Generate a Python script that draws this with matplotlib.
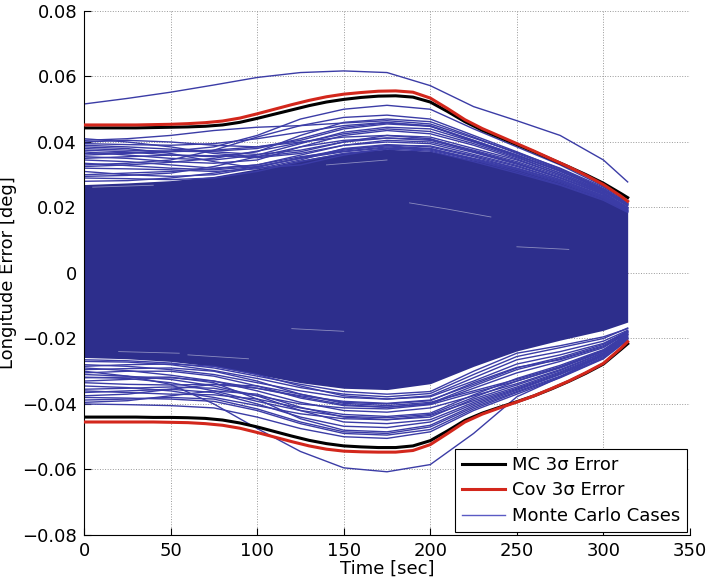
import matplotlib
matplotlib.use("Agg")
import matplotlib.pyplot as plt
import numpy as np

plt.rcParams['font.family'] = 'DejaVu Sans'
plt.rcParams['font.size'] = 13

# time grids [sec]
t_sig = [0, 10, 20, 30, 40, 50, 60, 70, 80, 90, 100, 110, 120, 130, 140, 150, 160, 170, 180, 190,
         200, 210, 220, 230, 240, 250, 260, 270, 280, 290, 300, 310, 314]
t_mc = [0, 25, 50, 75, 100, 125, 150, 175, 200, 225, 250, 275, 300, 314]

# 3-sigma envelopes [deg]
mc_up = [0.0443, 0.0443, 0.0443, 0.0443, 0.0444, 0.0445, 0.0446, 0.0448, 0.0452, 0.0460, 0.0472, 0.0485,
         0.0498, 0.0511, 0.0522, 0.0530, 0.0536, 0.0540, 0.0541, 0.0537, 0.0522, 0.0493, 0.0462, 0.0436,
         0.0414, 0.0392, 0.0370, 0.0347, 0.0324, 0.0300, 0.0274, 0.0243, 0.0230]
cov_up = [0.0452, 0.0452, 0.0452, 0.0452, 0.0453, 0.0454, 0.0456, 0.0459, 0.0464, 0.0473, 0.0486, 0.0500,
          0.0514, 0.0527, 0.0538, 0.0546, 0.0551, 0.0555, 0.0556, 0.0552, 0.0534, 0.0502, 0.0468, 0.0441,
          0.0418, 0.0395, 0.0372, 0.0348, 0.0324, 0.0298, 0.0270, 0.0235, 0.0219]
mc_lo = [-0.0440, -0.0440, -0.0440, -0.0440, -0.0441, -0.0441, -0.0442, -0.0444, -0.0449, -0.0458, -0.0470,
         -0.0484, -0.0498, -0.0511, -0.0521, -0.0528, -0.0531, -0.0533, -0.0533, -0.0528, -0.0512, -0.0482,
         -0.0450, -0.0428, -0.0410, -0.0393, -0.0375, -0.0354, -0.0331, -0.0306, -0.0278, -0.0234, -0.0216]
cov_lo = [-0.0455, -0.0455, -0.0455, -0.0455, -0.0455, -0.0456, -0.0457, -0.0460, -0.0465, -0.0474, -0.0487,
          -0.0501, -0.0515, -0.0528, -0.0538, -0.0544, -0.0546, -0.0547, -0.0547, -0.0542, -0.0524, -0.0490,
          -0.0455, -0.0431, -0.0412, -0.0394, -0.0375, -0.0353, -0.0330, -0.0304, -0.0276, -0.0230, -0.0210]

# dense core of the monte carlo runs
core_up = [0.0270, 0.0275, 0.0282, 0.0295, 0.0318, 0.0345, 0.0368, 0.0378, 0.0372, 0.0345, 0.0318, 0.0280, 0.0230, 0.0188]
core_lo = [-0.0258, -0.0262, -0.0270, -0.0285, -0.0310, -0.0335, -0.0352, -0.0356, -0.0338, -0.0285, -0.0238, -0.0205, -0.0175, -0.0150]

# individual runs outside the core
runs_up = [
    [0.0516, 0.0533, 0.0552, 0.0574, 0.0597, 0.0612, 0.0617, 0.0612, 0.0572, 0.0508, 0.0465, 0.0420, 0.0345, 0.0278],
    [0.0380, 0.0375, 0.0372, 0.0385, 0.0420, 0.0470, 0.0500, 0.0512, 0.0500, 0.0440, 0.0385, 0.0330, 0.0265, 0.0220],
    [0.0330, 0.0335, 0.0345, 0.0375, 0.0415, 0.0450, 0.0475, 0.0482, 0.0470, 0.0420, 0.0370, 0.0318, 0.0258, 0.0212],
    [0.0405, 0.0410, 0.0420, 0.0435, 0.0445, 0.0450, 0.0458, 0.0465, 0.0455, 0.0412, 0.0368, 0.0320, 0.0262, 0.0215],
    [0.0395, 0.0392, 0.0390, 0.0395, 0.0410, 0.0430, 0.0450, 0.0460, 0.0448, 0.0405, 0.0360, 0.0310, 0.0255, 0.0210],
    [0.0370, 0.0360, 0.0350, 0.0345, 0.0360, 0.0395, 0.0430, 0.0445, 0.0440, 0.0400, 0.0355, 0.0305, 0.0250, 0.0205],
    [0.0410, 0.0400, 0.0385, 0.0365, 0.0355, 0.0370, 0.0400, 0.0420, 0.0415, 0.0380, 0.0345, 0.0300, 0.0245, 0.0200],
    [0.0360, 0.0365, 0.0370, 0.0375, 0.0385, 0.0400, 0.0415, 0.0420, 0.0410, 0.0370, 0.0335, 0.0290, 0.0240, 0.0198],
    [0.0345, 0.0340, 0.0330, 0.0320, 0.0330, 0.0360, 0.0390, 0.0400, 0.0395, 0.0362, 0.0328, 0.0285, 0.0235, 0.0195],
    [0.0320, 0.0318, 0.0315, 0.0310, 0.0318, 0.0345, 0.0380, 0.0392, 0.0385, 0.0355, 0.0320, 0.0280, 0.0232, 0.0192],
    [0.0300, 0.0305, 0.0310, 0.0318, 0.0330, 0.0355, 0.0372, 0.0385, 0.0378, 0.0348, 0.0315, 0.0275, 0.0228, 0.0190],
    [0.0385, 0.0380, 0.0365, 0.0340, 0.0320, 0.0330, 0.0360, 0.0380, 0.0380, 0.0345, 0.0310, 0.0270, 0.0225, 0.0188],
    [0.0290, 0.0288, 0.0285, 0.0290, 0.0310, 0.0340, 0.0365, 0.0378, 0.0372, 0.0340, 0.0305, 0.0268, 0.0222, 0.0185],
    [0.0355, 0.0350, 0.0340, 0.0335, 0.0345, 0.0385, 0.0420, 0.0435, 0.0425, 0.0390, 0.0348, 0.0300, 0.0248, 0.0208],
    [0.0400, 0.0405, 0.0400, 0.0390, 0.0385, 0.0405, 0.0440, 0.0455, 0.0448, 0.0402, 0.0358, 0.0312, 0.0252, 0.0212],
    [0.0375, 0.0370, 0.0360, 0.0355, 0.0370, 0.0420, 0.0460, 0.0470, 0.0462, 0.0415, 0.0365, 0.0315, 0.0256, 0.0210],
    [0.0280, 0.0282, 0.0290, 0.0305, 0.0325, 0.0350, 0.0370, 0.0382, 0.0375, 0.0345, 0.0318, 0.0280, 0.0230, 0.0188],
    [0.0310, 0.0300, 0.0295, 0.0300, 0.0322, 0.0352, 0.0378, 0.0388, 0.0380, 0.0350, 0.0320, 0.0282, 0.0232, 0.0190],
    [0.0335, 0.0328, 0.0320, 0.0315, 0.0325, 0.0350, 0.0375, 0.0390, 0.0388, 0.0358, 0.0325, 0.0285, 0.0236, 0.0193],
    [0.0350, 0.0355, 0.0360, 0.0358, 0.0352, 0.0365, 0.0390, 0.0405, 0.0400, 0.0368, 0.0332, 0.0290, 0.0240, 0.0196],
    [0.0295, 0.0298, 0.0305, 0.0325, 0.0355, 0.0385, 0.0405, 0.0412, 0.0405, 0.0372, 0.0336, 0.0292, 0.0242, 0.0198],
    [0.0365, 0.0368, 0.0372, 0.0370, 0.0362, 0.0375, 0.0400, 0.0412, 0.0408, 0.0375, 0.0340, 0.0296, 0.0244, 0.0200],
    [0.0325, 0.0330, 0.0338, 0.0350, 0.0372, 0.0398, 0.0425, 0.0440, 0.0432, 0.0395, 0.0352, 0.0305, 0.0250, 0.0205],
    [0.0390, 0.0385, 0.0378, 0.0372, 0.0380, 0.0410, 0.0445, 0.0458, 0.0450, 0.0405, 0.0360, 0.0312, 0.0254, 0.0210],
]
runs_lo = [
    [-0.0300, -0.0315, -0.0340, -0.0400, -0.0475, -0.0545, -0.0595, -0.0607, -0.0585, -0.0490, -0.0378, -0.0318, -0.0248, -0.0180],
    [-0.0400, -0.0402, -0.0405, -0.0412, -0.0440, -0.0475, -0.0500, -0.0505, -0.0485, -0.0420, -0.0370, -0.0320, -0.0262, -0.0205],
    [-0.0388, -0.0385, -0.0380, -0.0385, -0.0415, -0.0455, -0.0485, -0.0490, -0.0470, -0.0410, -0.0362, -0.0315, -0.0258, -0.0200],
    [-0.0365, -0.0360, -0.0355, -0.0365, -0.0400, -0.0440, -0.0468, -0.0472, -0.0455, -0.0400, -0.0355, -0.0308, -0.0252, -0.0198],
    [-0.0345, -0.0350, -0.0360, -0.0380, -0.0405, -0.0430, -0.0445, -0.0448, -0.0435, -0.0390, -0.0348, -0.0302, -0.0248, -0.0195],
    [-0.0330, -0.0325, -0.0320, -0.0330, -0.0360, -0.0395, -0.0420, -0.0425, -0.0412, -0.0375, -0.0338, -0.0295, -0.0243, -0.0190],
    [-0.0310, -0.0315, -0.0325, -0.0345, -0.0375, -0.0400, -0.0412, -0.0415, -0.0402, -0.0365, -0.0330, -0.0290, -0.0240, -0.0188],
    [-0.0295, -0.0292, -0.0290, -0.0300, -0.0330, -0.0370, -0.0395, -0.0400, -0.0390, -0.0335, -0.0288, -0.0265, -0.0225, -0.0182],
    [-0.0375, -0.0370, -0.0355, -0.0340, -0.0345, -0.0370, -0.0398, -0.0405, -0.0395, -0.0360, -0.0325, -0.0286, -0.0236, -0.0186],
    [-0.0280, -0.0285, -0.0295, -0.0310, -0.0335, -0.0360, -0.0380, -0.0385, -0.0375, -0.0320, -0.0265, -0.0240, -0.0208, -0.0175],
    [-0.0355, -0.0352, -0.0348, -0.0352, -0.0375, -0.0420, -0.0455, -0.0460, -0.0448, -0.0395, -0.0352, -0.0305, -0.0250, -0.0196],
    [-0.0320, -0.0318, -0.0318, -0.0335, -0.0385, -0.0445, -0.0480, -0.0485, -0.0465, -0.0405, -0.0358, -0.0310, -0.0255, -0.0200],
    [-0.0265, -0.0268, -0.0275, -0.0290, -0.0315, -0.0340, -0.0362, -0.0370, -0.0362, -0.0300, -0.0245, -0.0222, -0.0195, -0.0170],
    [-0.0395, -0.0390, -0.0375, -0.0360, -0.0370, -0.0410, -0.0440, -0.0448, -0.0440, -0.0385, -0.0342, -0.0298, -0.0245, -0.0192],
    [-0.0270, -0.0272, -0.0280, -0.0298, -0.0322, -0.0350, -0.0370, -0.0378, -0.0368, -0.0310, -0.0255, -0.0228, -0.0200, -0.0168],
    [-0.0285, -0.0280, -0.0278, -0.0285, -0.0310, -0.0345, -0.0375, -0.0385, -0.0378, -0.0330, -0.0278, -0.0250, -0.0215, -0.0178],
    [-0.0305, -0.0300, -0.0300, -0.0315, -0.0345, -0.0382, -0.0405, -0.0410, -0.0398, -0.0345, -0.0295, -0.0262, -0.0222, -0.0180],
    [-0.0335, -0.0340, -0.0342, -0.0340, -0.0352, -0.0378, -0.0402, -0.0410, -0.0400, -0.0352, -0.0305, -0.0270, -0.0228, -0.0183],
    [-0.0318, -0.0322, -0.0335, -0.0360, -0.0392, -0.0420, -0.0438, -0.0442, -0.0432, -0.0380, -0.0330, -0.0288, -0.0238, -0.0188],
    [-0.0360, -0.0365, -0.0370, -0.0372, -0.0385, -0.0412, -0.0432, -0.0438, -0.0428, -0.0372, -0.0322, -0.0282, -0.0234, -0.0186],
    [-0.0290, -0.0298, -0.0312, -0.0330, -0.0352, -0.0375, -0.0392, -0.0398, -0.0388, -0.0340, -0.0290, -0.0258, -0.0218, -0.0178],
    [-0.0380, -0.0382, -0.0385, -0.0392, -0.0420, -0.0460, -0.0490, -0.0495, -0.0478, -0.0415, -0.0365, -0.0318, -0.0260, -0.0203],
]

# light gaps visible inside the dense core (t, value)
gap_t = [[188, 210, 235], [5, 40], [60, 95], [20, 55], [120, 150], [250, 280], [140, 175]]
gap_y = [[0.0214, 0.0195, 0.0171], [0.0262, 0.0268], [-0.0250, -0.0262], [-0.0240, -0.0245],
         [-0.0170, -0.0178], [0.0080, 0.0072], [0.0330, 0.0345]]

run_color = '#3b3ca6'
core_color = '#2d2e8c'
red = '#d3271c'

fig = plt.figure(figsize=(7.09, 5.81), dpi=100)
ax = fig.add_axes([0.1185, 0.0792, 0.8547, 0.9019])

ax.fill_between(t_mc, core_lo, core_up, color=core_color, lw=0, zorder=2)
for r in runs_up + runs_lo:
    ax.plot(t_mc, r, color=run_color, lw=1.0, zorder=2)
for gt, gy in zip(gap_t, gap_y):
    ax.plot(gt, gy, color='white', lw=0.6, alpha=0.45, zorder=2)

ax.plot(t_sig, mc_up, color='black', lw=2.2, zorder=3)
ax.plot(t_sig, mc_lo, color='black', lw=2.2, zorder=3)
ax.plot(t_sig, cov_up, color=red, lw=2.2, zorder=4)
ax.plot(t_sig, cov_lo, color=red, lw=2.2, zorder=4)

# legend handles
h_mc, = ax.plot([], [], color='black', lw=2.2, label='MC 3σ Error')
h_cov, = ax.plot([], [], color=red, lw=2.2, label='Cov 3σ Error')
h_run, = ax.plot([], [], color='#5a5ac4', lw=1.0, label='Monte Carlo Cases')

ax.set_xlim(0, 350)
ax.set_ylim(-0.08, 0.08)
ax.set_xticks(np.arange(0, 351, 50))
ax.set_yticks(np.arange(-0.08, 0.0801, 0.02))
ax.set_yticklabels(['\u22120.08', '\u22120.06', '\u22120.04', '\u22120.02', '0', '0.02', '0.04', '0.06', '0.08'])
ax.set_xlabel('Time [sec]', labelpad=0)
ax.set_ylabel('Longitude Error [deg]', labelpad=4)

ax.grid(True, linestyle=':', color='#999999', lw=0.7)
ax.set_axisbelow(True)
for s in ['top', 'right']:
    ax.spines[s].set_visible(False)
ax.tick_params(direction='in', length=5, width=0.8, pad=5)

leg = ax.legend(handles=[h_mc, h_cov, h_run], loc='lower right', fancybox=False,
                edgecolor='black', framealpha=1, handlelength=2.4, handletextpad=0.35,
                labelspacing=0.42, borderpad=0.4, borderaxespad=0.15)
leg.get_frame().set_linewidth(0.8)

fig.savefig('out.png', dpi=100)
